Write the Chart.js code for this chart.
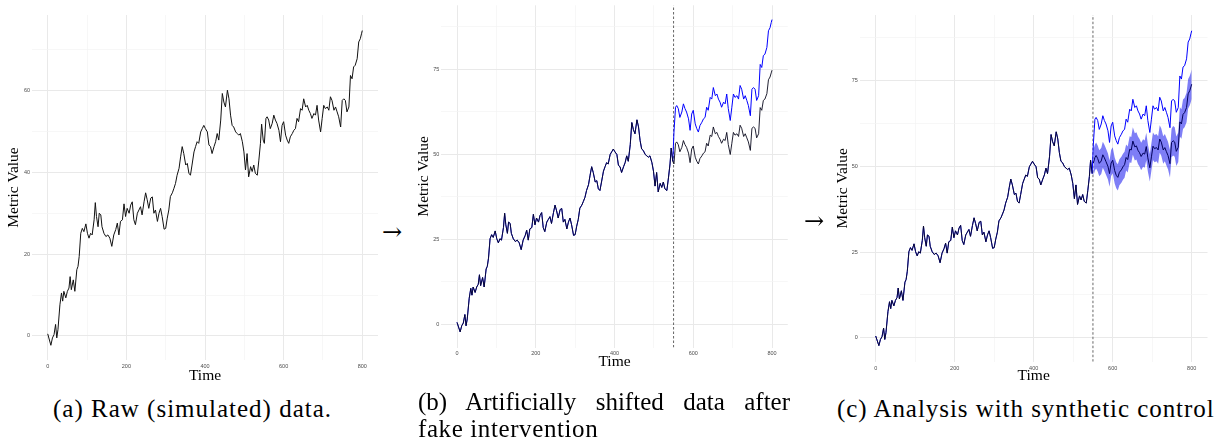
<!DOCTYPE html>
<html><head><meta charset="utf-8">
<script src="https://cdn.jsdelivr.net/npm/chart.js@4.4.1/dist/chart.umd.min.js"></script>
<style>
html,body{margin:0;padding:0;background:#fff;width:1221px;height:444px;overflow:hidden;position:relative;}
.panel{position:absolute;top:0;}
.cap{position:absolute;font-family:'Liberation Serif',serif;font-size:25px;color:#000;white-space:nowrap;line-height:1;}
.arrow{position:absolute;font-family:'DejaVu Serif',serif;font-size:24px;line-height:1;color:#000;}
</style></head><body>
<canvas id="ca" class="panel" width="380" height="390" style="left:0;width:380px;height:390px"></canvas>
<canvas id="cb" class="panel" width="390" height="390" style="left:410px;width:390px;height:390px"></canvas>
<canvas id="cc" class="panel" width="401" height="390" style="left:820px;width:401px;height:390px"></canvas>
<div class="arrow" style="left:382px;top:220px">→</div>
<div class="arrow" style="left:804px;top:209px">→</div>
<div class="cap" style="left:53px;top:396px;letter-spacing:1px">(a) Raw (simulated) data.</div>
<div class="cap" style="left:418px;top:389px;width:372px;text-align:justify;text-align-last:justify;white-space:normal">(b) Artificially shifted data after</div>
<div class="cap" style="left:418px;top:416px;letter-spacing:0.6px">fake intervention</div>
<div class="cap" style="left:837px;top:396px;letter-spacing:0.95px">(c) Analysis with synthetic control</div>
<script>
// ---- data ----
const time = [0,8,12,16,20,23,26,31,35,38,41,46,50,54,57,60,65,69,74,77,80,84,88,92,97,101,105,109,113,118,121,124,128,131,135,138,143,148,153,158,163,168,173,177,181,185,190,194,198,202,207,211,215,219,223,228,232,236,240,245,249,253,257,262,266,270,274,279,283,287,291,296,300,304,308,312,317,321,325,329,334,338,342,346,351,355,359,363,367,372,376,380,384,389,393,397,401,406,410,414,418,423,427,431,435,440,444,448,452,457,461,465,469,473,478,482,486,490,495,499,503,507,511,516,520,524,528,533,537,541,544,548,551,555,558,562,566,571,575,579,583,588,592,596,600,605,609,613,617,622,626,630,634,638,643,647,651,656,660,664,668,672,677,681,685,689,694,698,702,706,711,715,719,723,728,732,736,740,745,749,753,757,761,766,770,774,778,782,787,791,795,798,800];
const metric = [0.5,-2.3,-0.5,0.3,2.8,-0.5,1.5,7.6,10.5,8.5,10.9,9.3,10.9,11.7,14.5,11.3,13.7,10.9,16.2,17.0,19.4,25.1,26.3,25.5,27.4,25.1,23.9,25.1,24.7,28.4,32.6,29.2,26.7,30.0,29.6,26.7,25.1,24.3,24.7,23.9,21.9,24.7,26.0,27.6,24.7,28.0,28.4,32.3,29.2,31.2,30.0,32.0,32.8,28.4,27.2,30.0,30.8,31.6,29.6,32.8,35.0,33.3,31.2,33.7,34.0,30.0,30.8,28.0,30.0,31.2,29.2,26.1,26.3,28.8,30.8,34.1,35.0,36.1,37.3,39.3,41.0,43.8,46.3,44.6,41.8,42.2,39.8,39.3,41.8,45.0,46.3,47.5,47.1,49.9,50.7,51.5,50.7,49.9,46.7,46.3,44.6,46.3,47.5,49.5,47.9,52.8,59.3,57.2,56.0,60.1,58.0,54.0,51.5,51.1,49.9,49.5,49.1,49.5,47.5,45.0,40.6,44.6,38.9,41.4,40.2,41.8,39.8,39.3,43.0,47.1,51.8,47.9,47.1,53.2,53.6,52.8,50.7,52.0,54.0,52.8,52.0,50.3,47.5,51.5,52.4,49.1,47.9,47.1,48.7,49.5,50.3,50.7,53.2,52.4,55.6,55.2,58.0,56.0,56.4,55.2,54.4,53.2,54.4,54.0,56.4,52.8,49.9,53.2,56.4,55.6,56.0,55.2,58.5,57.6,55.2,56.0,54.8,53.6,51.1,57.6,58.0,57.6,54.8,56.0,63.7,62.9,65.8,66.2,67.8,71.9,72.7,73.9,74.7];
const interventionTime = 550;
// values after the intervention (times in `time` greater than interventionTime)
const shiftedMetric = [56.5,63.8,64.3,63.4,60.8,62.4,64.8,63.4,62.4,60.4,57.0,61.8,62.9,58.9,57.5,56.5,58.4,59.4,60.4,60.8,63.8,62.9,66.7,66.2,69.6,67.2,67.7,66.2,65.3,63.8,65.3,64.8,67.7,63.4,59.9,63.8,67.7,66.7,67.2,66.2,70.2,69.1,66.2,67.2,65.8,64.3,61.3,69.1,69.6,69.1,65.8,67.2,76.4,75.5,79.0,79.4,81.4,86.3,87.2,88.7,89.6];
const synthMetric = [51.0,52.6,53.2,52.3,50.9,51.6,53.4,52.5,51.4,50.0,47.9,51.0,51.8,48.8,47.4,46.8,48.3,49.0,49.9,50.5,52.6,52.0,55.0,54.8,57.4,55.7,56.0,54.7,54.0,52.9,53.9,53.6,55.8,52.5,49.6,52.8,55.9,55.2,55.5,54.8,58.0,57.1,54.8,55.5,54.3,53.2,50.8,57.0,57.5,57.1,54.4,55.6,63.0,62.4,65.2,65.7,67.2,71.2,72.1,73.2,74.0];
const synthUpper = [54.8,56.4,57.0,56.1,54.7,55.4,57.2,56.3,55.2,53.8,51.7,54.8,55.6,52.6,51.2,50.6,52.1,52.8,53.7,54.3,56.4,55.8,58.8,58.6,61.4,59.7,60.0,58.7,58.0,56.9,57.9,57.6,59.8,56.5,53.6,56.8,59.9,59.2,59.5,58.8,62.0,61.1,58.8,59.5,58.3,57.2,54.8,61.0,61.8,61.4,58.7,59.9,67.3,66.7,69.5,70.0,71.5,75.5,76.4,77.5,78.3];
const synthLower = [47.2,48.8,49.4,48.5,47.1,47.8,49.6,48.7,47.6,46.2,44.1,47.2,48.0,45.0,43.6,43.0,44.5,45.2,46.1,46.7,48.8,48.2,51.2,51.0,53.4,51.7,52.0,50.7,50.0,48.9,49.9,49.6,51.8,48.5,45.6,48.8,51.9,51.2,51.5,50.8,54.0,53.1,50.8,51.5,50.3,49.2,46.8,52.7,53.2,52.8,50.1,51.3,58.7,58.1,60.9,61.4,62.9,66.9,67.8,68.9,69.7];
const xTicks = [0,100,200,300,400,500,600,700,800];
const xTickLabels = ['0','','200','','400','','600','','800'];
const yTicksA = [0,10,20,30,40,50,60,70];
const yTickLabelsA = ['0','','20','','40','','60',''];
const yTicksBC = [0,12.5,25,37.5,50,62.5,75,87.5];
const yTickLabelsBC = ['0','','25','','50','','75',''];
const xTitle = 'Time';
const yTitle = 'Metric Value';

// ---- build series ----
const pts = (ts, vs) => ts.map((t, i) => ({x: t, y: vs[i]}));
const preTime = time.filter(t => t < interventionTime);
const postTime = time.filter(t => t > interventionTime);
const basePts = pts(time, metric);
const prePts = pts(preTime, metric.slice(0, preTime.length));
const shiftedPts = prePts.concat(pts(postTime, shiftedMetric));
const synthPts = pts(postTime, synthMetric);
const upperPts = pts(postTime, synthUpper);
const lowerPts = pts(postTime, synthLower);

Chart.defaults.animation = false;
const MAJOR = '#e9e9e9', MINOR = '#f3f3f3';
const tickFont = {family: "'Liberation Sans', sans-serif", size: 5.5};
const titleFont = {family: "'Liberation Serif', serif", size: 15.5, lineHeight: 1};

function scales(yMin, yMax, yTicks, yLabels, yW, xH) {
  const grid = {
    drawTicks: false,
    color: c => (c.tick && c.tick.label) ? MAJOR : MINOR,
    lineWidth: c => (c.tick && c.tick.label) ? 1 : 0.7
  };
  return {
    x: {
      type: 'linear', min: -40, max: 840,
      border: {display: false}, grid: grid,
      afterBuildTicks: s => { s.ticks = xTicks.map(v => ({value: v})); },
      afterFit: s => { s.height = xH; },
      ticks: {autoSkip: false, maxRotation: 0, padding: 3, color: '#4d4d4d', font: tickFont,
        callback: (v, i) => xTickLabels[i]},
      title: {display: true, text: xTitle, color: '#000', font: titleFont, padding: 0}
    },
    y: {
      type: 'linear', min: yMin, max: yMax,
      border: {display: false}, grid: grid,
      afterBuildTicks: s => { s.ticks = yTicks.map(v => ({value: v})); },
      afterFit: s => { s.width = yW; },
      ticks: {autoSkip: false, padding: 2, color: '#4d4d4d', font: tickFont,
        callback: (v, i) => yLabels[i]},
      title: {display: true, text: yTitle, color: '#000', font: titleFont, padding: 0}
    }
  };
}
const line = (data, color, w, extra) => Object.assign({data, borderColor: color, backgroundColor: color,
  borderWidth: w, pointRadius: 0, tension: 0, fill: false}, extra || {});
const common = (padding, sc) => ({responsive: false, animation: false, events: [],
  layout: {padding}, plugins: {legend: {display: false}, tooltip: {enabled: false}}, scales: sc});

// (a)
new Chart(document.getElementById('ca'), {
  type: 'line',
  data: {datasets: [line(basePts, '#111', 1)]},
  options: common({left: 6.25, right: 2, top: 15, bottom: 6.25},
    scales(-5.9, 78.5, yTicksA, yTickLabelsA, 25.75, 23.75))
});
// (b)
new Chart(document.getElementById('cb'), {
  type: 'line',
  data: {datasets: [
    line(basePts, 'rgba(10,10,30,0.9)', 1),
    line(shiftedPts, '#0000ff', 1),
    line([{x: interventionTime, y: -6.9}, {x: interventionTime, y: 93.8}], '#666', 1, {borderDash: [2.5, 2]})
  ]},
  options: common({left: 6.25, right: 12.25, top: 0.5, bottom: 20.5},
    scales(-6.9, 93.8, yTicksBC, yTickLabelsBC, 25, 22))
});
// (c)
new Chart(document.getElementById('cc'), {
  type: 'line',
  data: {datasets: [
    line(prePts, 'rgba(10,10,30,0.9)', 1),
    line(synthPts, '#00005a', 1),
    line(shiftedPts, '#0000ff', 1),
    line(upperPts, 'rgba(0,0,0,0)', 0, {fill: '+1', backgroundColor: 'rgba(40,40,240,0.6)'}),
    line(lowerPts, 'rgba(0,0,0,0)', 0),
    line([{x: interventionTime, y: -7}, {x: interventionTime, y: 94.2}], '#666', 1, {borderDash: [2.5, 2]})
  ]},
  options: common({left: 15.25, right: 13.5, top: 15, bottom: 6.25},
    scales(-7, 94.2, yTicksBC, yTickLabelsBC, 24.65, 22.05))
});
</script>
</body></html>
